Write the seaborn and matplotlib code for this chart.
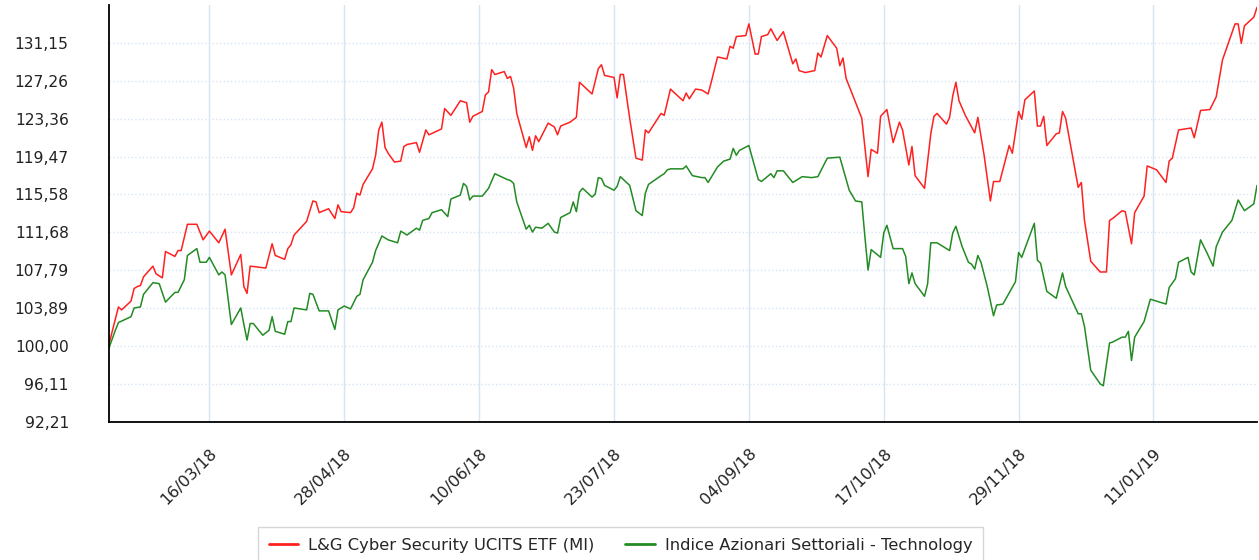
import pandas as pd
import matplotlib
matplotlib.use("Agg")
import matplotlib.pyplot as plt
import seaborn as sns

start = pd.Timestamp("2018-02-12")
series_names = ["L&G Cyber Security UCITS ETF (MI)", "Indice Azionari Settoriali - Technology"]

# days since start / value
red_day = [0, 3, 4, 7, 8, 9, 10, 11, 14, 15, 17, 18, 21, 22, 23, 25, 28, 30, 32, 35,
           37, 39, 42, 43, 44, 45, 50, 52, 53, 56, 57, 58, 59, 63, 65, 66, 67, 70, 72, 73,
           74, 77, 78, 79, 80, 81, 84, 85, 86, 87, 88, 89, 91, 93, 94, 95, 98, 99, 101, 102,
           106, 107, 109, 112, 114, 115, 116, 119, 120, 121, 122, 123, 126, 127, 128, 129, 130, 133, 134, 135,
           136, 137, 140, 142, 143, 144, 147, 149, 150, 154, 156, 157, 158, 161, 162, 163, 164, 166, 168, 170,
           171, 172, 176, 177, 179, 183, 184, 185, 187, 189, 191, 192, 194, 197, 198, 199, 200, 203, 204, 206,
           207, 208, 210, 211, 213, 215, 218, 219, 220, 222, 225, 226, 227, 229, 232, 233, 234, 235, 240, 242,
           243, 245, 246, 248, 250, 252, 253, 255, 256, 257, 260, 262, 263, 264, 267, 268, 269, 270, 271, 273,
           276, 277, 279, 281, 282, 284, 287, 288, 290, 291, 292, 295, 296, 297, 298, 299, 302, 303, 304, 305,
           309, 310, 311, 313, 316, 318, 319, 320, 323, 324, 326, 327, 330, 331, 334, 337, 338, 339, 341, 345,
           346, 348, 351, 353, 355, 359, 360, 361, 362, 365, 366]
red_val = [100.2, 104.0, 103.7, 104.6, 105.9, 106.1, 106.2, 107.1, 108.2, 107.4, 107.0, 109.7, 109.2, 109.8, 109.8, 112.5, 112.5, 110.9, 111.8, 110.6,
           112.0, 107.3, 109.4, 106.1, 105.4, 108.2, 108.0, 110.5, 109.3, 108.9, 110.0, 110.4, 111.4, 112.8, 114.9, 114.8, 113.7, 114.1, 113.1, 114.5,
           113.8, 113.7, 114.2, 115.7, 115.5, 116.6, 118.2, 119.6, 122.2, 123.0, 120.4, 119.8, 118.9, 119.0, 120.5, 120.7, 120.9, 119.9, 122.2, 121.7,
           122.3, 124.4, 123.7, 125.2, 125.0, 123.0, 123.6, 124.1, 125.8, 126.1, 128.4, 127.9, 128.2, 127.5, 127.7, 126.5, 123.9, 120.4, 121.5, 120.1,
           121.6, 121.0, 122.9, 122.5, 121.7, 122.6, 123.0, 123.5, 127.1, 125.9, 128.5, 128.9, 127.8, 127.6, 125.5, 127.9, 127.9, 123.4, 119.3, 119.1,
           122.2, 121.9, 123.9, 123.7, 126.4, 125.2, 126.0, 125.4, 126.4, 126.3, 125.9, 127.1, 129.7, 129.5, 130.8, 130.6, 131.8, 131.9, 133.1, 130.0,
           130.0, 131.8, 132.0, 132.6, 131.4, 132.3, 129.0, 129.5, 128.3, 128.1, 128.3, 130.1, 129.7, 131.9, 130.6, 128.8, 129.6, 127.5, 123.4, 117.4,
           120.2, 119.8, 123.6, 124.3, 120.9, 123.0, 122.2, 118.6, 120.5, 117.5, 116.2, 121.8, 123.6, 123.9, 122.8, 123.5, 125.7, 127.1, 125.2, 123.7,
           121.9, 123.5, 119.6, 114.9, 116.9, 116.9, 120.6, 119.8, 124.1, 123.3, 125.3, 126.2, 122.6, 122.6, 123.6, 120.6, 121.8, 121.9, 124.1, 123.4,
           116.3, 116.8, 112.9, 108.7, 107.6, 107.6, 112.9, 113.1, 113.9, 113.8, 110.5, 113.7, 115.4, 118.5, 118.1, 116.8, 119.0, 119.3, 122.2, 122.4,
           121.4, 124.2, 124.3, 125.6, 129.4, 133.1, 133.1, 131.1, 132.9, 133.8, 134.8]

green_day = [0, 2, 3, 7, 8, 10, 11, 12, 14, 16, 18, 21, 22, 24, 25, 28, 29, 31, 32, 35,
             36, 37, 39, 42, 43, 44, 45, 46, 49, 51, 52, 53, 56, 57, 58, 59, 63, 64, 65, 67,
             70, 72, 73, 75, 77, 79, 80, 81, 84, 85, 87, 89, 92, 93, 95, 98, 99, 100, 102, 103,
             106, 108, 109, 112, 113, 114, 115, 116, 119, 121, 123, 127, 128, 129, 130, 133, 134, 135, 136, 138,
             140, 142, 143, 144, 147, 148, 149, 150, 151, 154, 155, 156, 157, 158, 161, 162, 163, 166, 168, 170,
             171, 172, 176, 177, 178, 179, 183, 184, 186, 189, 190, 191, 194, 196, 198, 199, 200, 201, 204, 207,
             208, 211, 212, 213, 215, 218, 221, 224, 226, 229, 233, 236, 238, 240, 241, 242, 243, 246, 247, 248,
             250, 253, 254, 255, 256, 257, 260, 261, 262, 264, 268, 269, 270, 272, 274, 275, 276, 277, 278, 280,
             282, 283, 285, 289, 290, 291, 292, 295, 296, 297, 299, 302, 304, 305, 309, 310, 311, 313, 316, 317,
             319, 320, 323, 324, 325, 326, 327, 330, 332, 334, 337, 338, 340, 341, 344, 345, 346, 348, 350, 352,
             353, 355, 358, 360, 362, 365, 366]
green_val = [99.8, 101.6, 102.4, 103.0, 103.9, 104.0, 105.3, 105.7, 106.5, 106.4, 104.5, 105.5, 105.5, 106.8, 109.3, 110.0, 108.6, 108.6, 109.1, 107.3,
             107.6, 107.3, 102.2, 103.9, 102.2, 100.6, 102.3, 102.3, 101.1, 101.6, 103.0, 101.5, 101.2, 102.5, 102.5, 103.9, 103.7, 105.4, 105.3, 103.6,
             103.6, 101.7, 103.7, 104.1, 103.8, 105.1, 105.3, 106.8, 108.6, 109.8, 111.3, 110.9, 110.6, 111.8, 111.4, 112.1, 111.9, 112.9, 113.1, 113.7,
             114.0, 113.3, 115.1, 115.5, 116.7, 116.4, 115.0, 115.4, 115.4, 116.2, 117.7, 117.1, 117.0, 116.7, 114.8, 112.0, 112.4, 111.7, 112.2, 112.1,
             112.6, 111.7, 111.6, 113.2, 113.7, 114.8, 113.8, 115.8, 116.2, 115.3, 115.6, 117.3, 117.2, 116.5, 116.0, 116.4, 117.4, 116.5, 113.9, 113.4,
             115.7, 116.6, 117.5, 117.7, 118.1, 118.2, 118.2, 118.5, 117.5, 117.3, 117.3, 116.8, 118.4, 119.0, 119.2, 120.3, 119.6, 120.1, 120.6, 117.1,
             116.9, 117.7, 117.3, 118.0, 118.0, 116.8, 117.4, 117.3, 117.4, 119.3, 119.4, 116.0, 114.9, 114.8, 111.2, 107.8, 109.9, 109.1, 111.6, 112.4,
             110.0, 110.0, 109.2, 106.4, 107.5, 106.4, 105.1, 106.4, 110.6, 110.6, 109.8, 111.6, 112.3, 110.2, 108.6, 108.4, 107.9, 109.3, 108.6, 106.1,
             103.1, 104.2, 104.3, 106.6, 109.6, 109.1, 110.0, 112.6, 108.8, 108.5, 105.6, 104.9, 107.5, 106.1, 103.3, 103.3, 102.0, 97.5, 96.1, 95.9,
             100.3, 100.4, 100.9, 100.9, 101.5, 98.5, 100.9, 102.5, 104.8, 104.6, 104.3, 106.0, 106.9, 108.6, 109.1, 107.6, 107.3, 110.9, 109.6, 108.2,
             110.2, 111.7, 112.9, 115.0, 113.9, 114.6, 116.5]

ytick_vals = [92.21, 96.11, 100.00, 103.89, 107.79, 111.68, 115.58, 119.47, 123.36, 127.26, 131.15]
ytick_labels = ["92,21", "96,11", "100,00", "103,89", "107,79", "111,68", "115,58", "119,47", "123,36", "127,26", "131,15"]
xtick_dates = ["2018-03-16", "2018-04-28", "2018-06-10", "2018-07-23", "2018-09-04", "2018-10-17", "2018-11-29", "2019-01-11"]
xtick_labels = ["16/03/18", "28/04/18", "10/06/18", "23/07/18", "04/09/18", "17/10/18", "29/11/18", "11/01/19"]

df = pd.concat([
    pd.DataFrame({"date": start + pd.to_timedelta(red_day, unit="D"), "value": red_val, "serie": series_names[0]}),
    pd.DataFrame({"date": start + pd.to_timedelta(green_day, unit="D"), "value": green_val, "serie": series_names[1]}),
])

sns.set_style("white")
plt.rcParams['font.family'] = ['DejaVu Sans']
grid_col = "#d6e4f3"

fig = plt.figure(figsize=(12.59, 5.6), dpi=100)
ax = fig.add_axes([0.0866, 0.247, 0.9118, 0.744])
sns.lineplot(data=df, x="date", y="value", hue="serie", palette=["#ff2020", "#238b23"],
             estimator=None, sort=False, linewidth=1.1, ax=ax)

ax.set_xlim(start, start + pd.Timedelta(days=366))
ax.set_ylim(92.21, 135.04)
ax.set_yticks(ytick_vals)
ax.set_yticklabels(ytick_labels, fontsize=11.2, color="#222222")
ax.set_xticks(pd.to_datetime(xtick_dates))
ax.set_xticklabels(xtick_labels, fontsize=11.6, color="#222222", rotation=45, ha="right", rotation_mode="anchor")
ax.tick_params(axis="y", length=27, width=1, color=grid_col, pad=2)
ax.tick_params(axis="x", length=14, width=1, color=grid_col, pad=3)
ax.grid(axis="y", color=grid_col, linestyle=":", linewidth=1)
ax.grid(axis="x", color=grid_col, linestyle="-", linewidth=1)
ax.set_xlabel("")
ax.set_ylabel("")
for s in ["top", "right"]:
    ax.spines[s].set_visible(False)
for s in ["left", "bottom"]:
    ax.spines[s].set_color("black")
    ax.spines[s].set_linewidth(1.3)

handles, labels = ax.get_legend_handles_labels()
ax.get_legend().remove()
leg = fig.legend(handles, labels, loc="upper center", bbox_to_anchor=(0.4929, 0.059), ncol=2,
                 fontsize=11.8, frameon=True, fancybox=False, handlelength=1.8, handletextpad=0.6,
                 columnspacing=1.9, borderpad=0.65, borderaxespad=0)
leg.get_frame().set_edgecolor("#cccccc")
leg.get_frame().set_linewidth(1)
for line in leg.get_lines():
    line.set_linewidth(2)

fig.savefig("out.png", dpi=100)
